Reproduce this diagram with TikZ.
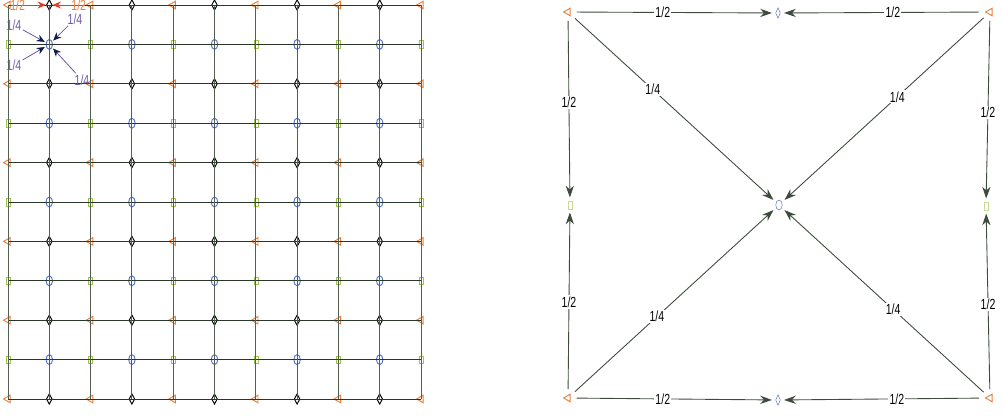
\documentclass[tikz,border=0pt]{standalone}
\usepackage{fontspec}
\setmainfont{Liberation Sans}
\newfontfamily\labfont[FakeStretch=0.72]{Liberation Sans}
\usetikzlibrary{arrows.meta,positioning,shapes.geometric,calc}

\definecolor{triorange}{RGB}{232,128,60}
\definecolor{ovalblue}{RGB}{85,115,195}
\definecolor{sqgreen}{RGB}{160,195,80}
\definecolor{gridline}{RGB}{40,55,40}
\definecolor{wtpurple}{RGB}{110,90,170}
\definecolor{tipnavy}{RGB}{15,30,70}
\definecolor{halfred}{RGB}{225,60,40}

\tikzset{
  trinode/.style={draw=triorange, thick, regular polygon, regular polygon sides=3,
    shape border rotate=90, inner sep=0pt, minimum size=7.5pt},
  dianode/.style={draw=black, thick, diamond, aspect=0.6, inner sep=0pt,
    minimum width=5pt, minimum height=9pt},
  bluedia/.style={draw=ovalblue, diamond, aspect=0.5, inner sep=0pt,
    minimum width=4pt, minimum height=9pt},
  ovalnode/.style={draw=ovalblue, thick, ellipse, inner sep=0pt,
    minimum width=5.5pt, minimum height=8.5pt},
  sqnode/.style={draw=sqgreen, rectangle, inner sep=0pt,
    minimum width=3.5pt, minimum height=6.5pt},
  lab/.style={font=\labfont\fontsize{12.5}{12.5}\selectfont, inner sep=1pt},
  wt/.style={draw=gridline!90, line width=0.75pt,
    -{Stealth[length=10pt,width=7pt]}, shorten >=3pt, shorten <=5pt},
  halfarrow/.style={draw=halfred, line width=0.7pt,
    -{Stealth[length=7pt,width=6pt]}},
  quarterarrow/.style={draw=wtpurple, line width=0.7pt,
    -{Stealth[length=7pt,width=6pt,color=tipnavy]}, shorten >=1pt},
}

\begin{document}
\begin{tikzpicture}[x=0.03cm, y=-0.03cm]
  \useasboundingbox (0,0) rectangle (1003,416);

  % Grid of sites
  \foreach \i in {0,...,10}
    \foreach \j in {0,...,10} {
      \pgfmathtruncatemacro\kind{mod(\i,2)+2*mod(\j,2)}
      \ifcase\kind
        \node[trinode] (g-\i-\j) at ({8+41.3*\i},{5+39.4*\j}) {};
      \or
        \node[dianode] (g-\i-\j) at ({8+41.3*\i},{5+39.4*\j}) {};
      \or
        \node[sqnode] (g-\i-\j) at ({8+41.3*\i},{5+39.4*\j}) {};
      \or
        \node[ovalnode] (g-\i-\j) at ({8+41.3*\i},{5+39.4*\j}) {};
      \fi
    }

  % Grid lines
  \foreach \j in {0,...,10}
    \draw[gridline, line width=0.8pt] (g-0-\j.center) -- (g-10-\j.center);
  \foreach \i in {0,...,10}
    \draw[gridline!80, line width=0.7pt] (g-\i-0.center) -- (g-\i-10.center);

  % Weights on the small grid
  \draw[halfarrow] (g-0-0) -- (g-1-0)
    node[lab, pos=0.2, text=triorange] {1/2};
  \draw[halfarrow] (g-2-0) -- (g-1-0)
    node[lab, pos=0.2, yshift=-0.5pt, text=triorange] {1/2};

  \node[lab, text=wtpurple] (q-ul) at (14,25) {1/4};
  \node[lab, text=wtpurple] (q-ur) at (75,19) {1/4};
  \node[lab, text=wtpurple] (q-ll) at (14,65) {1/4};
  \node[lab, text=wtpurple] (q-lr) at (82,80) {1/4};
  \draw[quarterarrow] (q-ul) -- (g-1-1);
  \draw[quarterarrow] (q-ur) -- (g-1-1);
  \draw[quarterarrow] (q-ll) -- (g-1-1);
  \draw[quarterarrow] (q-lr) -- (g-1-1);

  % Stencil
  \node[trinode] (tl) at (568,12) {};
  \node[bluedia] (tm) at (778,13) {};
  \node[trinode] (tr) at (990,12) {};
  \node[sqnode, draw=sqgreen!60] (ml) at (570,205) {};
  \node[ovalnode, thin] (c) at (779,205) {};
  \node[sqnode, draw=sqgreen!60] (mr) at (986,206) {};
  \node[trinode] (bl) at (568,398) {};
  \node[bluedia] (bm) at (778,400) {};
  \node[trinode] (br) at (990,398) {};

  \draw[wt] (tl) -- node[lab, fill=white, pos=0.45] {1/2} (tm);
  \draw[wt] (tr) -- node[lab, fill=white, pos=0.45] {1/2} (tm);
  \draw[wt] (bl) -- node[lab, fill=white, pos=0.45] {1/2} (bm);
  \draw[wt] (br) -- node[lab, fill=white, pos=0.43] {1/2} (bm);
  \draw[wt] (tl) -- node[lab, fill=white, pos=0.47] {1/2} (ml);
  \draw[wt] (bl) -- node[lab, fill=white, pos=0.5] {1/2} (ml);
  \draw[wt] (tr) -- node[lab, fill=white, pos=0.52] {1/2} (mr);
  \draw[wt] (br) -- node[lab, fill=white, pos=0.49] {1/2} (mr);

  \draw[wt] (tl) -- node[lab, fill=white, pos=0.4] {1/4} (c);
  \draw[wt] (tr) -- node[lab, fill=white, pos=0.44] {1/4} (c);
  \draw[wt] (bl) -- node[lab, fill=white, pos=0.42] {1/4} (c);
  \draw[wt] (br) -- node[lab, fill=white, pos=0.46] {1/4} (c);

\end{tikzpicture}
\end{document}
